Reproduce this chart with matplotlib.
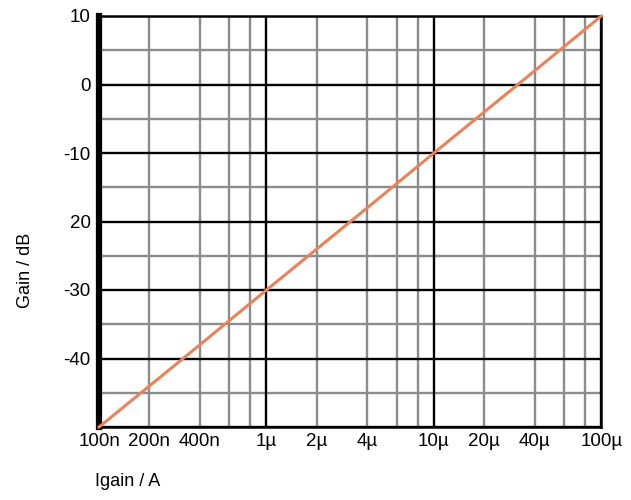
import matplotlib
matplotlib.use("Agg")
import matplotlib.pyplot as plt
from matplotlib.ticker import FixedLocator, NullFormatter

plt.rcParams['font.family'] = ['Liberation Sans', 'DejaVu Sans']

# current (A) vs gain (dB)
current = [100e-9, 200e-9, 400e-9, 1e-6, 2e-6, 4e-6, 10e-6, 20e-6, 40e-6, 100e-6]
gain = [-50, -44, -38, -30, -24, -18, -10, -4, 2, 10]

x_ticks = [100e-9, 200e-9, 400e-9, 1e-6, 2e-6, 4e-6, 10e-6, 20e-6, 40e-6, 100e-6]
x_labels = ['100n', '200n', '400n', '1µ', '2µ', '4µ', '10µ', '20µ', '40µ', '100µ']
y_ticks = [-40, -30, -20, -10, 0, 10]
y_labels = ['-40', '-30', '20', '-10', '0', '10']

major_x = [1e-7, 1e-6, 1e-5, 1e-4]
minor_x = [m * d for d in [1e-7, 1e-6, 1e-5] for m in (2, 4, 6, 8)]
major_y = [-50, -40, -30, -20, -10, 0]
minor_y = [-45, -35, -25, -15, -5, 5]

fig = plt.figure(figsize=(6.31, 5.0), dpi=100)
ax = fig.add_axes([0.157, 0.146, 0.796, 0.822])
ax.set_xscale('log')
ax.set_xlim(1e-7, 1e-4)
ax.set_ylim(-50, 10)

grey = '#8c8c8c'
for x in minor_x:
    ax.axvline(x, color=grey, lw=1.7, zorder=1)
for y in minor_y:
    ax.axhline(y, color=grey, lw=1.7, zorder=1)
for x in major_x:
    ax.axvline(x, color='black', lw=1.7, zorder=2)
for y in major_y:
    ax.axhline(y, color='black', lw=1.7, zorder=2)

ax.plot(current, gain, color='#e8845c', lw=2.2, zorder=3, clip_on=False)

ax.xaxis.set_minor_locator(FixedLocator([]))
ax.xaxis.set_minor_formatter(NullFormatter())
ax.set_xticks(x_ticks)
ax.set_xticklabels(x_labels)
ax.set_yticks(y_ticks)
ax.set_yticklabels(y_labels)
ax.tick_params(axis='both', length=0, labelsize=13.5, colors='black')
ax.tick_params(axis='x', pad=4)
ax.tick_params(axis='y', pad=6)

ax.spines['left'].set_linewidth(4.5)
ax.spines['left'].set_color('black')
ax.spines['bottom'].set_linewidth(1.8)
ax.spines['right'].set_linewidth(1.8)
ax.spines['top'].set_linewidth(1.8)

fig.text(0.04, 0.46, 'Gain / dB', rotation=90, fontsize=13, ha='center', va='center')
fig.text(0.151, 0.036, 'Igain / A', fontsize=13, ha='left', va='center')

fig.savefig('out.png', dpi=100)
